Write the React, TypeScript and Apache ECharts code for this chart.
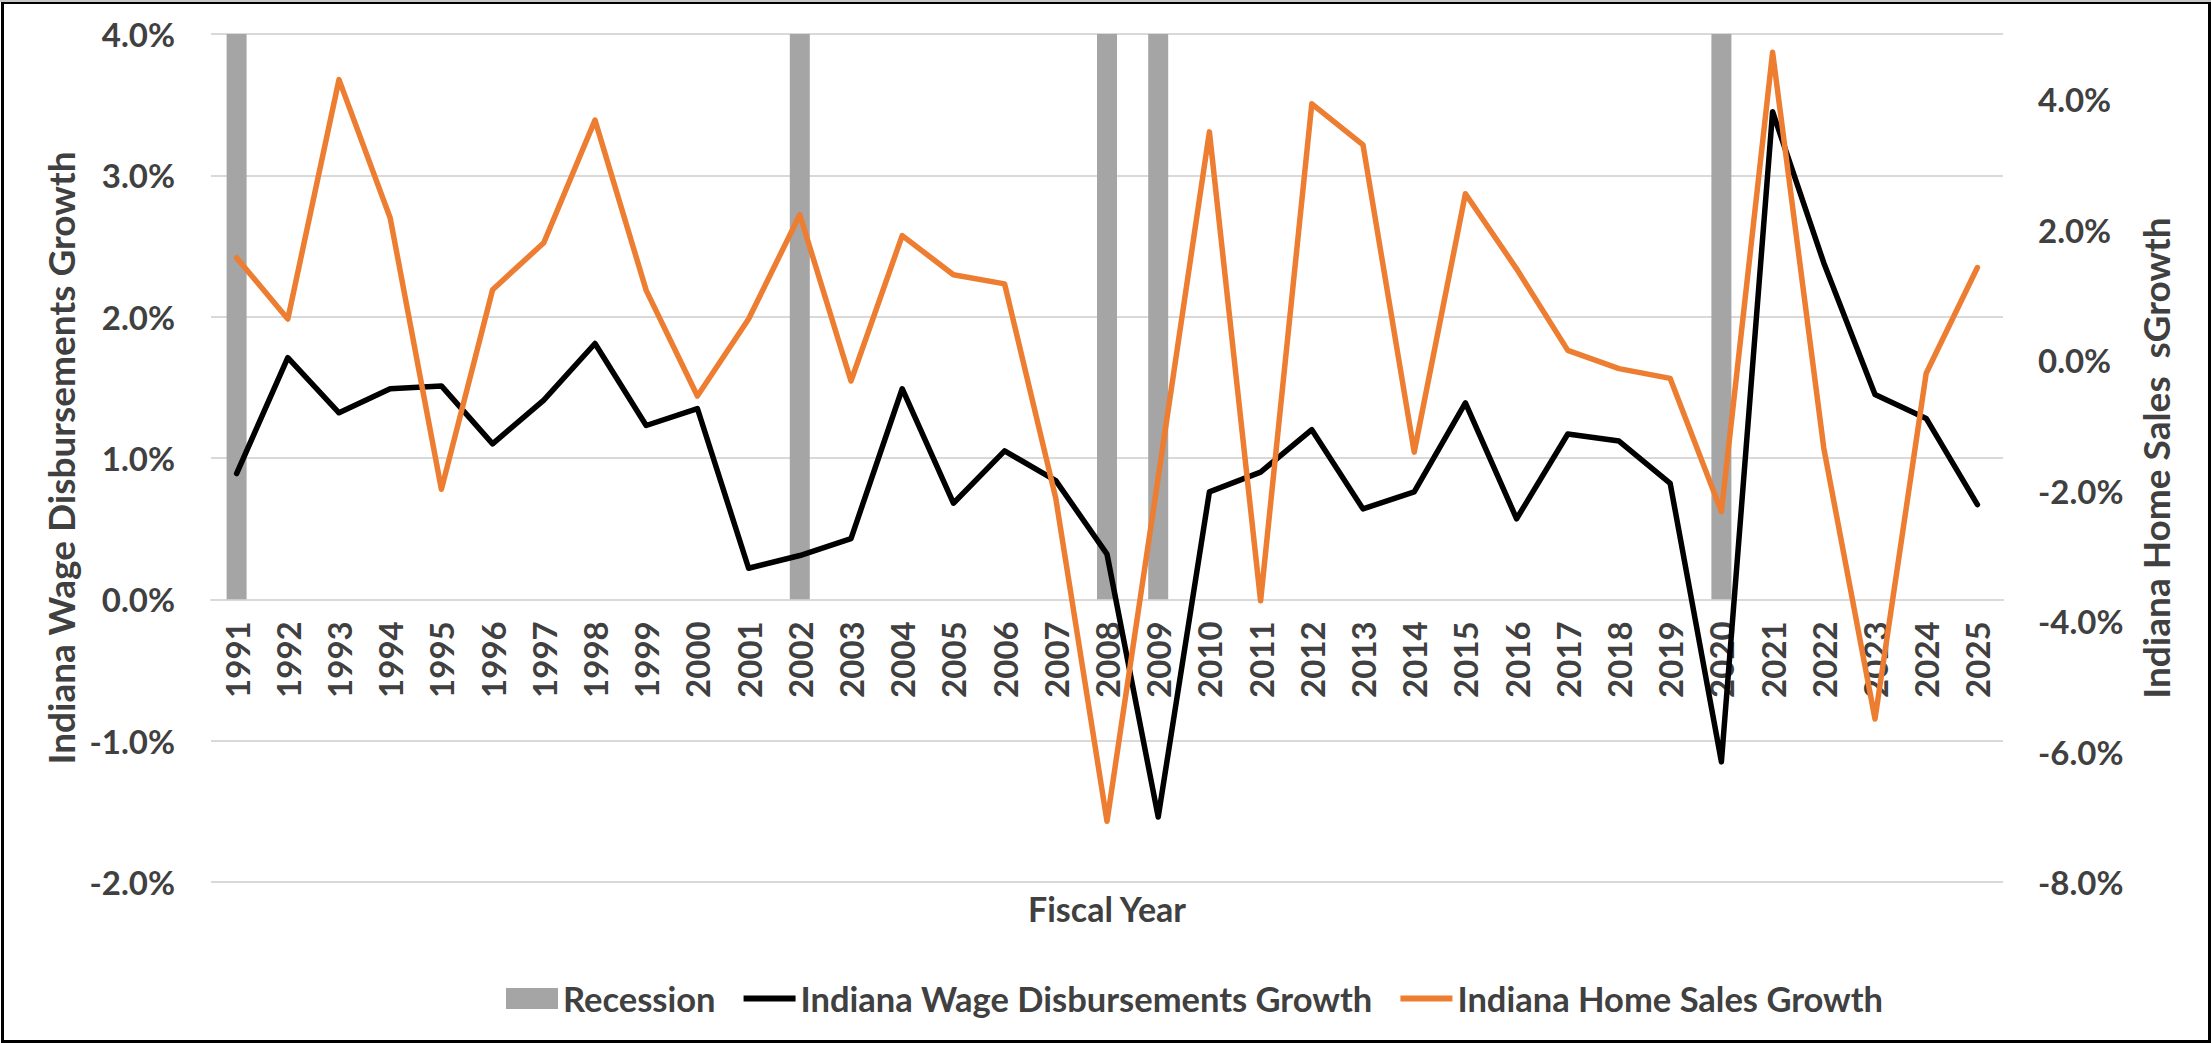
import React, { useEffect, useRef } from "react";
import * as echarts from "echarts";

const years = [
  "1991", "1992", "1993", "1994", "1995", "1996", "1997", "1998", "1999", "2000",
  "2001", "2002", "2003", "2004", "2005", "2006", "2007", "2008", "2009", "2010",
  "2011", "2012", "2013", "2014", "2015", "2016", "2017", "2018", "2019", "2020",
  "2021", "2022", "2023", "2024", "2025",
];

// Recession shading (full height of left axis, 4.0%) for recession years
const recession = [
  4, null, null, null, null, null, null, null, null, null,
  null, 4, null, null, null, null, null, 4, 4, null,
  null, null, null, null, null, null, null, null, null, 4,
  null, null, null, null, null,
];

// Indiana Wage Disbursements Growth (%), left axis
const wageGrowth = [
  0.89, 1.71, 1.32, 1.49, 1.51, 1.10, 1.41, 1.81, 1.23, 1.35,
  0.22, 0.31, 0.43, 1.49, 0.68, 1.05, 0.84, 0.32, -1.54, 0.76,
  0.90, 1.20, 0.64, 0.76, 1.39, 0.57, 1.17, 1.12, 0.82, -1.15,
  3.45, 2.38, 1.45, 1.28, 0.67,
];

// Indiana Home Sales Growth (%), right axis
const homeSalesGrowth = [
  1.57, 0.63, 4.30, 2.18, -1.98, 1.08, 1.80, 3.68, 1.07, -0.55,
  0.63, 2.23, -0.32, 1.91, 1.31, 1.17, -2.12, -7.07, -1.80, 3.50,
  -3.69, 3.93, 3.30, -1.41, 2.55, 1.40, 0.15, -0.13, -0.28, -2.32,
  4.72, -1.35, -5.50, -0.20, 1.42,
];

const FONT = "Lato";
const TXT = "#404040";

export default function App() {
  const ref = useRef<HTMLDivElement>(null);

  useEffect(() => {
    if (!ref.current) return;
    const chart = echarts.init(ref.current, undefined, { renderer: "svg" });
    const pct = (v: number) => v.toFixed(1) + "%";
    const GRID_TOP = 34;
    const GRID_H = 848;
    // the category axis sits at the 0% line of the left axis (-2..4 range)
    const zeroOffset = -(GRID_H * 2) / 6;
    chart.setOption({
      animation: false,
      backgroundColor: "#ffffff",
      textStyle: { fontFamily: FONT },
      grid: {
        left: 211,
        right: 208,
        top: GRID_TOP,
        height: GRID_H,
        containLabel: false,
        outerBoundsMode: "none",
      },
      legend: {
        left: 501,
        top: 976,
        itemWidth: 52,
        itemHeight: 21,
        itemGap: 28,
        textStyle: { color: TXT, fontSize: 34.5, fontWeight: "bold", fontFamily: FONT },
        data: [
          { name: "Recession", icon: "rect" },
          { name: "Indiana Wage Disbursements Growth", icon: "path://M0,0 L52,0 L52,6 L0,6 Z" },
          { name: "Indiana Home Sales Growth", icon: "path://M0,0 L52,0 L52,6 L0,6 Z" },
        ],
      },
      xAxis: {
        type: "category",
        data: years,
        boundaryGap: true,
        offset: zeroOffset,
        axisLine: { show: true, onZero: false, lineStyle: { color: "#d9d9d9", width: 2 } },
        axisTick: { show: false },
        axisLabel: {
          interval: 0,
          rotate: 90,
          margin: 22,
          color: TXT,
          fontSize: 33,
          fontWeight: "bold",
          fontFamily: FONT,
        },
        name: "Fiscal Year",
        nameLocation: "middle",
        nameGap: 292,
        nameTextStyle: { color: TXT, fontSize: 34, fontWeight: "bold", fontFamily: FONT },
      },
      yAxis: [
        {
          type: "value",
          min: -2,
          max: 4,
          interval: 1,
          axisLine: { show: false },
          axisTick: { show: false },
          splitLine: { show: true, lineStyle: { color: "#d9d9d9", width: 2 } },
          axisLabel: {
            formatter: pct,
            margin: 36,
            color: TXT,
            fontSize: 33,
            fontWeight: "bold",
            fontFamily: FONT,
          },
          name: "Indiana Wage Disbursements Growth",
          nameLocation: "middle",
          nameRotate: 90,
          nameGap: 128,
          nameTextStyle: { color: TXT, fontSize: 37, fontWeight: "bold", fontFamily: FONT },
        },
        {
          type: "value",
          min: -8,
          max: 5,
          interval: 2,
          axisLine: { show: false },
          axisTick: { show: false },
          splitLine: { show: false },
          axisLabel: {
            formatter: pct,
            showMaxLabel: false,
            margin: 35,
            color: TXT,
            fontSize: 33,
            fontWeight: "bold",
            fontFamily: FONT,
          },
          name: "Indiana Home Sales  sGrowth",
          nameLocation: "middle",
          nameRotate: 90,
          nameGap: 134,
          nameTextStyle: { color: TXT, fontSize: 37, fontWeight: "bold", fontFamily: FONT },
        },
      ],
      series: [
        {
          name: "Recession",
          type: "bar",
          data: recession,
          yAxisIndex: 0,
          barWidth: 20,
          itemStyle: { color: "#A5A5A5" },
          z: 1,
        },
        {
          name: "Indiana Wage Disbursements Growth",
          type: "line",
          data: wageGrowth,
          yAxisIndex: 0,
          symbol: "none",
          color: "#000000",
          lineStyle: { color: "#000000", width: 5.5, cap: "round", join: "round" },
          z: 2,
        },
        {
          name: "Indiana Home Sales Growth",
          type: "line",
          data: homeSalesGrowth,
          yAxisIndex: 1,
          symbol: "none",
          color: "#ED7D31",
          lineStyle: { color: "#ED7D31", width: 5.5, cap: "round", join: "round" },
          z: 3,
        },
      ],
      graphic: [
        {
          type: "rect",
          left: 0,
          top: 0,
          shape: { x: 1.5, y: 1.5, width: 2207, height: 1039 },
          style: { fill: "none", stroke: "#000000", lineWidth: 3 },
          silent: true,
        },
        {
          type: "line",
          shape: { x1: 0, y1: 1, x2: 2211, y2: 1 },
          style: { stroke: "#c8c8c8", lineWidth: 2 },
          silent: true,
        },
      ],
    });
    return () => chart.dispose();
  }, []);

  return (
    <div
      ref={ref}
      style={{ position: "absolute", left: 0, top: 0, width: 2211, height: 1043 }}
    />
  );
}
